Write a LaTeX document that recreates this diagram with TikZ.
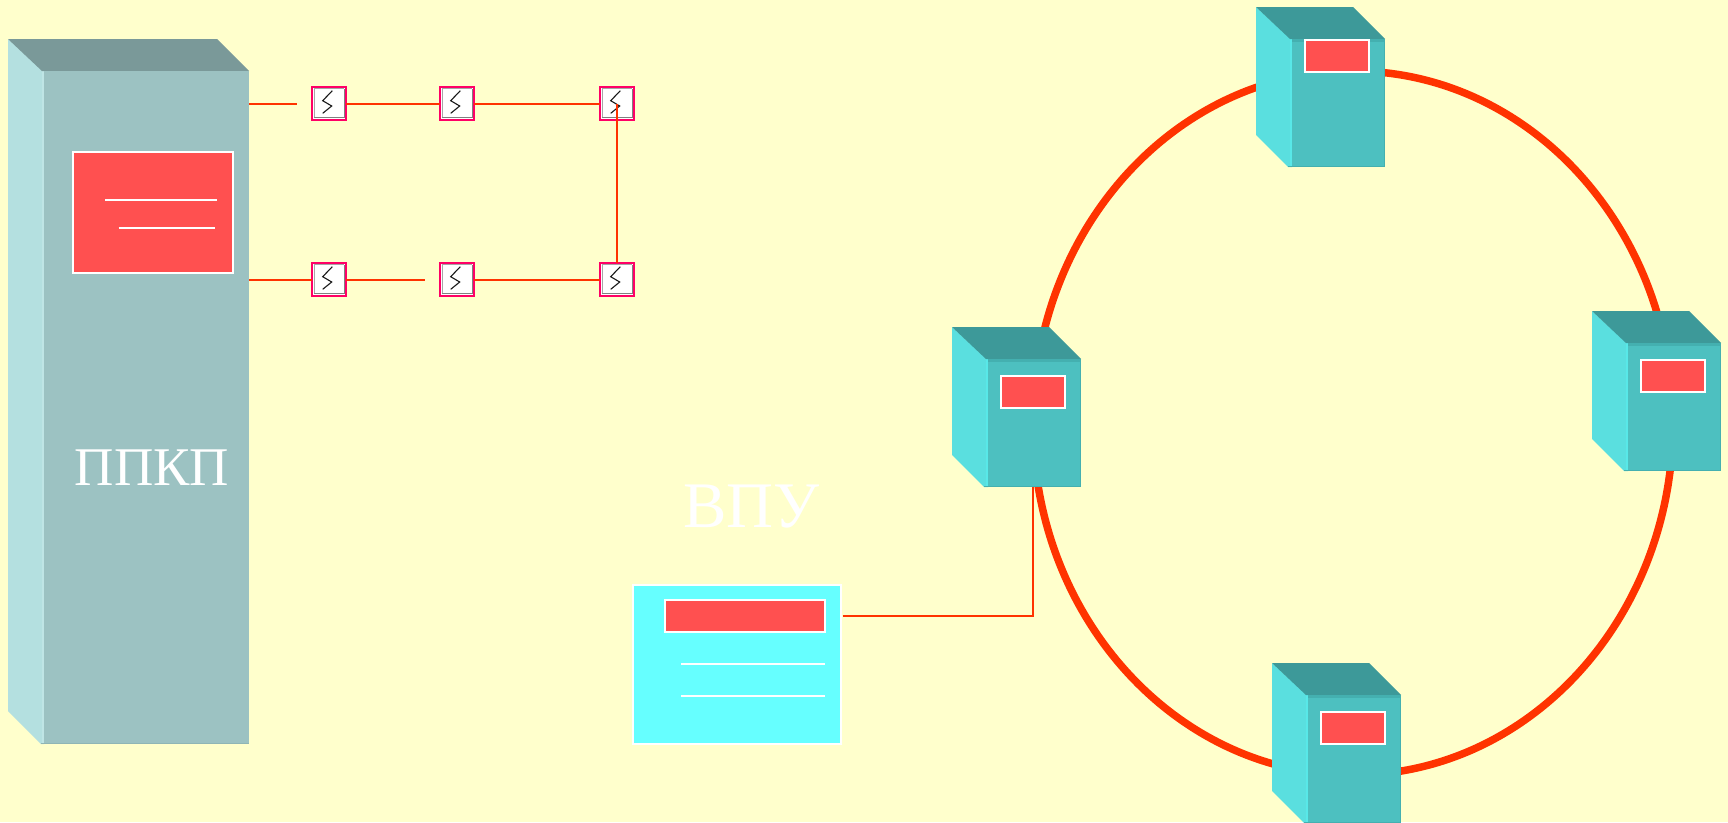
\documentclass[tikz,border=0pt]{standalone}
\usepackage{fontspec}
\setmainfont{Liberation Serif}
\definecolor{bgc}{HTML}{FFFFCC}
\definecolor{wirec}{HTML}{FF3300}
\definecolor{swc}{HTML}{FF0066}
\definecolor{redc}{HTML}{FF5050}
\definecolor{vpuc}{HTML}{66FFFF}
\definecolor{cfront}{HTML}{4DC0C0}
\definecolor{ctop}{HTML}{3D9999}
\definecolor{cside}{HTML}{5ADFDF}
\definecolor{cedge}{HTML}{44B0B0}
\definecolor{chigh}{HTML}{58E8E8}
\definecolor{bfront}{HTML}{9CC2C2}
\definecolor{btop}{HTML}{7A9999}
\definecolor{bside}{HTML}{B4E0E0}
\definecolor{bedge}{HTML}{8FB5B5}
\tikzset{
  wire/.style={draw=wirec,line width=1.9pt},
  ring/.style={draw=wirec,line width=7.5pt},
  redpanel/.style={draw=white,line width=2pt,fill=redc,inner sep=0pt,outer sep=0pt},
  whiteline/.style={draw=white,line width=1.6pt},
  swbox/.style={draw=swc,line width=2.4pt,fill=white,minimum width=34pt,minimum height=33pt,inner sep=0pt,outer sep=0pt},
  biglabel/.style={text=white,inner sep=0pt}
}
% #1 x0, #2 y0, #3 name, #4 panel dx, #5 panel dy
\newcommand{\srvcube}[5]{%
  \begin{scope}[shift={(#1,#2)}]
    \fill[cside] (0,0) -- (36,33) -- (36,160) -- (32,160) -- (0,128) -- cycle;
    \fill[chigh] (34,32) rectangle (36,160);
    \fill[ctop] (0,0) -- (97,0) -- (129,32) -- (34,32) -- cycle;
    \fill[cfront] (36,32) rectangle (129,160);
    \fill[cedge] (36,32) rectangle (129,35);
    \fill[cedge] (32,158.5) rectangle (129,160);
    \fill[cedge] (127.5,35) rectangle (129,160);
    \node[redpanel,minimum width=64pt,minimum height=32pt] (#3) at (#4+32,#5+16) {};
  \end{scope}}
\newcommand{\swglyph}[1]{%
  \draw[gray!70,line width=0.8pt] ([shift={(-15,14.5)}]#1.center) -- ([shift={(-15,-15)}]#1.center) -- ([shift={(15,-15)}]#1.center);
  \draw[gray,line width=1.2pt] ([shift={(-15,13.8)}]#1.center) -- ([shift={(15.2,13.8)}]#1.center) -- ([shift={(15.2,-15)}]#1.center);
  \draw[black!90,line width=1.1pt] ([shift={(3.3,-12.8)}]#1.center) -- ([shift={(-6.3,-2.8)}]#1.center) -- ([shift={(2.7,2.5)}]#1.center) -- ([shift={(-6.3,9.8)}]#1.center);}
\begin{document}
\begin{tikzpicture}[x=1pt,y=-1pt]
\useasboundingbox (0,0) rectangle (1728,822);
\fill[bgc] (0,0) rectangle (1728,822);
\clip (0,0) rectangle (1728,822);

% ring
\draw[ring] (1353,423) ellipse [x radius=320,y radius=352];

% big cabinet
\fill[bside] (8,39) -- (44,71) -- (44,744) -- (41,744) -- (8,711) -- cycle;
\fill[bside!85!white] (42,71) rectangle (44,744);
\fill[btop] (8,39) -- (217,39) -- (249,71) -- (42,71) -- cycle;
\fill[bfront] (44,71) rectangle (249,743.5);
\fill[bedge] (41,742.5) rectangle (249,744);
\node[redpanel,minimum width=160pt,minimum height=121pt] (ppkppanel) at (153,212.5) {};
\draw[whiteline] (105,200) -- (217,200);
\draw[whiteline] (118.5,228) -- (215,228);
\node[biglabel,font=\fontsize{54.5}{54.5}\selectfont] (ppkp) at (152,468) {ППКП};
\coordinate (cabU) at (249,104);
\coordinate (cabL) at (249,280);
\coordinate (gapU) at (297,104);
\coordinate (gapL) at (425,280);

% switches
\node[swbox] (s1) at (329,103.5) {};
\node[swbox] (s2) at (457,103.5) {};
\node[swbox] (s3) at (617,103.5) {};
\node[swbox] (s4) at (329,279.5) {};
\node[swbox] (s5) at (457,279.5) {};
\node[swbox] (s6) at (617,279.5) {};
\swglyph{s1}\swglyph{s2}\swglyph{s3}\swglyph{s4}\swglyph{s5}\swglyph{s6}
\draw[wire] (cabU) -- (gapU);
\draw[wire] (s1.east |- cabU) -- (s2.west |- cabU);
\draw[wire] (s2.east |- cabU) -- (s3.west |- cabU);
\draw[wire] (cabL) -- (s4.west |- cabL);
\draw[wire] (s4.east |- cabL) -- (gapL);
\draw[wire] (s5.east |- cabL) -- (s6.west |- cabL);
\draw[wire] (s3.center |- cabU) -- (s6.north);

% VPU
\node[draw=white,line width=2pt,fill=vpuc,minimum width=208pt,minimum height=159pt,inner sep=0pt,outer sep=0pt] (vpu) at (737,664) {};
\node[redpanel,minimum width=160pt,minimum height=32pt] (vpupanel) at (745,616) {};
\draw[whiteline] (681,664) -- (825,664);
\draw[whiteline] (681,696) -- (825,696);
\node[biglabel,font=\fontsize{65}{65}\selectfont] (vpulabel) at (751.5,506.5) {ВПУ};

% cubes
\srvcube{1256}{7}{c1}{49}{33}
\srvcube{952}{327}{c2}{49}{49}
\srvcube{1592}{311}{c3}{49}{49}
\srvcube{1272}{663}{c4}{49}{49}
\coordinate (drop) at (1033,616);
\coordinate (vpuout) at (842.5,616);
\coordinate (cubefoot) at (1033,487);
\draw[wire] (vpuout) -- (drop) -- (cubefoot);
\end{tikzpicture}
\end{document}
